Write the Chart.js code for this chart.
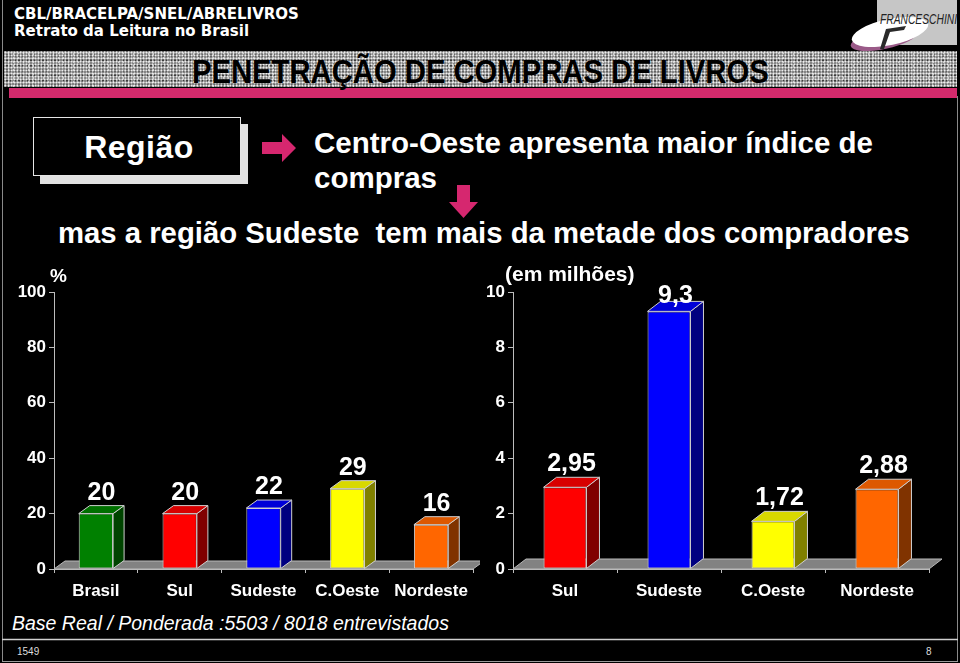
<!DOCTYPE html>
<html><head><meta charset="utf-8">
<script src="https://cdn.jsdelivr.net/npm/chart.js@4.4.1/dist/chart.umd.min.js"></script>
<style>
html,body{margin:0;padding:0;background:#000;}
#slide{position:relative;width:960px;height:663px;overflow:hidden;background:#000;font-family:"Liberation Sans",Arial,sans-serif;color:#fff;}
.abs{position:absolute;white-space:pre;}
#band{position:absolute;left:4px;top:51px;width:953px;height:36px;background-color:#858585;
 background-image:radial-gradient(circle,#eeeeee 0.7px,transparent 1.3px),radial-gradient(circle,#3c3c3c 0.8px,transparent 1.4px),radial-gradient(circle,#d0d0d0 0.6px,transparent 1.2px);
 background-size:3px 3px,4px 5px,5px 4px;background-position:0 0,1px 2px,2px 1px;}
#pink{position:absolute;left:9px;top:88px;width:948px;height:10px;background:#d32a6c;}
canvas{position:absolute;}
</style></head>
<body><div id="slide">
<div id="band"></div>
<div id="pink"></div>
<div class="abs" style="left:0;top:54px;width:960px;text-align:center;font:bold 34px/34px 'Liberation Sans',Arial;color:#000;"><span id="title" style="display:inline-block;transform:scaleX(0.86);transform-origin:50% 50%;">PENETRAÇÃO DE COMPRAS DE LIVROS</span></div>
<div class="abs" style="left:14px;top:6px;font:bold 15px/17px 'DejaVu Sans',Verdana,sans-serif;">CBL/BRACELPA/SNEL/ABRELIVROS
Retrato da Leitura no Brasil</div>

<svg class="abs" style="left:840px;top:0" width="120" height="52" viewBox="0 0 120 52">
 <rect x="37" y="0" width="80" height="45" fill="#c6c6c6"/>
 <ellipse cx="44" cy="39" rx="34" ry="10" transform="rotate(-12 44 39)" fill="#9a5a88"/>
 <ellipse cx="50" cy="32" rx="39" ry="13" transform="rotate(-12 50 32)" fill="#ffffff"/>
 <path d="M40 49 L46 29 L66 26 L64 30 L50 32 L44 49 Z" fill="#2a2a2a"/>
 <text x="40" y="24" font-family="Liberation Sans,Arial" font-style="italic" font-size="14" fill="#222" textLength="77" lengthAdjust="spacingAndGlyphs">FRANCESCHINI</text>
</svg>

<div style="position:absolute;left:40px;top:124px;width:208px;height:60px;background:#e2e2e2;"></div>
<div style="position:absolute;left:33px;top:117px;width:206px;height:57px;background:#000;border:1px solid #e6e6e6;"></div>
<div class="abs" style="left:33px;top:131px;width:212px;text-align:center;font:bold 32px/32px 'Liberation Sans',Arial;letter-spacing:0.5px;">Região</div>

<div class="abs" style="left:314px;top:125px;font:bold 29.5px/35px 'Liberation Sans',Arial;">Centro-Oeste apresenta maior índice de
compras</div>
<div class="abs" style="left:58px;top:218px;font:bold 29.3px/29px 'Liberation Sans',Arial;">mas a região Sudeste  tem mais da metade dos compradores</div>

<canvas id="c1" width="480" height="345" style="left:0;top:260px;"></canvas>
<canvas id="c2" width="480" height="345" style="left:480px;top:260px;"></canvas>

<div class="abs" style="left:50px;top:266px;font:bold 19px/19px 'Liberation Sans',Arial;">%</div>
<div class="abs" style="left:505px;top:263px;font:bold 21px/21px 'Liberation Sans',Arial;">(em milhões)</div>

<div class="abs" style="left:12px;top:614px;font:italic 19.5px/19.5px 'Liberation Sans',Arial;">Base Real / Ponderada :5503 / 8018 entrevistados</div>
<div class="abs" style="left:17px;top:646px;font:10px/12px 'Liberation Sans',Arial;color:#ddd;">1549</div>
<div class="abs" style="left:926px;top:646px;font:10px/12px 'Liberation Sans',Arial;color:#ddd;">8</div>

<svg class="abs" style="left:0;top:0;pointer-events:none" width="960" height="663">
 <polygon points="262,142 282,142 282,134 296,148 282,162 282,154 262,154" fill="#d6276f"/>
 <polygon points="457,185 470,185 470,202 478,202 463.5,218 449,202 457,202" fill="#d6276f"/>
 <line x1="2.5" y1="0" x2="2.5" y2="662" stroke="#8a8a8a" stroke-width="1"/>
 <line x1="957.5" y1="96" x2="957.5" y2="662" stroke="#8a8a8a" stroke-width="1"/>
 <line x1="2" y1="639.5" x2="958" y2="639.5" stroke="#cfcfcf" stroke-width="1.5"/>
 <line x1="2" y1="661.5" x2="958" y2="661.5" stroke="#9a9a9a" stroke-width="1"/>
</svg>
</div>

<script>
// ---- Data ----
const percentCategories = ['Brasil', 'Sul', 'Sudeste', 'C.Oeste', 'Nordeste'];
const percentValues = [20, 20, 22, 29, 16];
const percentValueLabels = ['20', '20', '22', '29', '16'];
const percentTickMax = 100;
const percentTickStep = 20;

const buyersCategories = ['Sul', 'Sudeste', 'C.Oeste', 'Nordeste'];
const buyersValues = [2.95, 9.3, 1.72, 2.88];
const buyersValueLabels = ['2,95', '9,3', '1,72', '2,88'];
const buyersTickMax = 10;
const buyersTickStep = 2;

// ---- Colours ----
const percentFront = ['#008000', '#ff0000', '#0000ff', '#ffff00', '#ff6600'];
const percentSide  = ['#004400', '#800000', '#000080', '#808000', '#803300'];
const percentTop   = ['#007000', '#d80000', '#0000d8', '#d8d800', '#dd5800'];
const buyersFront = ['#ff0000', '#0000ff', '#ffff00', '#ff6600'];
const buyersSide  = ['#800000', '#000080', '#808000', '#803300'];
const buyersTop   = ['#d80000', '#0000d8', '#d8d800', '#dd5800'];

function bar3d(o) {
  return {
    id: 'bar3d',
    beforeDatasetsDraw(chart) {
      const ctx = chart.ctx, a = chart.chartArea;
      ctx.save();
      ctx.beginPath();
      ctx.moveTo(a.left, a.bottom);
      ctx.lineTo(a.right, a.bottom);
      ctx.lineTo(a.right + o.dx, a.bottom - o.dy);
      ctx.lineTo(a.left + o.dx, a.bottom - o.dy);
      ctx.closePath();
      ctx.fillStyle = '#828282';
      ctx.fill();
      ctx.strokeStyle = '#b8b8b8';
      ctx.lineWidth = 1;
      ctx.stroke();
      ctx.restore();
    },
    afterDatasetsDraw(chart) {
      const ctx = chart.ctx, a = chart.chartArea;
      const meta = chart.getDatasetMeta(0);
      const poly = (pts, fill) => {
        ctx.beginPath();
        ctx.moveTo(pts[0][0], pts[0][1]);
        for (let k = 1; k < pts.length; k++) ctx.lineTo(pts[k][0], pts[k][1]);
        ctx.closePath();
        ctx.fillStyle = fill; ctx.fill();
        ctx.strokeStyle = '#cfcfcf'; ctx.lineWidth = 1; ctx.stroke();
      };
      ctx.save();
      meta.data.forEach((el, i) => {
        const p = el.getProps(['x', 'y', 'base', 'width'], true);
        const l = p.x - p.width / 2, r = p.x + p.width / 2;
        poly([[r, p.base], [r + o.dx, p.base - o.dy], [r + o.dx, p.y - o.dy], [r, p.y]], o.side[i]);
        poly([[l, p.y], [l + o.dx, p.y - o.dy], [r + o.dx, p.y - o.dy], [r, p.y]], o.top[i]);
        ctx.font = 'bold 25px "Liberation Sans", Arial';
        ctx.textAlign = 'center';
        ctx.textBaseline = 'alphabetic';
        ctx.fillStyle = '#ffffff';
        const by = Math.max(p.y - o.dy - 6, a.top + 11);
        ctx.fillText(o.labels[i], p.x + o.dx / 2, by);
      });
      ctx.restore();
    }
  };
}

function makeChart(id, cats, vals, front, side, top, labels, max, step, yWidth, padRight, barPct, dx, dy) {
  return new Chart(document.getElementById(id), {
    type: 'bar',
    data: {
      labels: cats,
      datasets: [{
        data: vals,
        backgroundColor: front,
        borderColor: '#cfcfcf',
        borderWidth: 1,
        borderSkipped: false,
        barPercentage: barPct,
        categoryPercentage: 1
      }]
    },
    options: {
      responsive: false,
      animation: false,
      devicePixelRatio: 1,
      layout: { padding: { top: 32, right: padRight, left: 0, bottom: 0 } },
      plugins: { legend: { display: false }, tooltip: { enabled: false } },
      scales: {
        x: {
          afterFit: s => { s.height = 36; },
          grid: { drawOnChartArea: false, drawTicks: true, tickLength: 4, offset: true, color: '#bdbdbd' },
          border: { display: true, color: '#bdbdbd', width: 1 },
          ticks: { color: '#ffffff', font: { family: 'Liberation Sans', size: 17, weight: 'bold' }, padding: 8 }
        },
        y: {
          min: 0, max: max,
          afterFit: s => { s.width = yWidth; },
          grid: { drawOnChartArea: false, drawTicks: true, tickLength: 5, color: '#bdbdbd' },
          border: { display: true, color: '#bdbdbd', width: 1 },
          ticks: { stepSize: step, color: '#ffffff', font: { family: 'Liberation Sans', size: 17, weight: 'bold' }, padding: 3 }
        }
      }
    },
    plugins: [bar3d({ dx: dx, dy: dy, side: side, top: top, labels: labels })]
  });
}

makeChart('c1', percentCategories, percentValues, percentFront, percentSide, percentTop, percentValueLabels,
  percentTickMax, percentTickStep, 54, 7, 0.41, 11, 8);
makeChart('c2', buyersCategories, buyersValues, buyersFront, buyersSide, buyersTop, buyersValueLabels,
  buyersTickMax, buyersTickStep, 33, 31, 0.413, 13, 10);
</script>
</body></html>
